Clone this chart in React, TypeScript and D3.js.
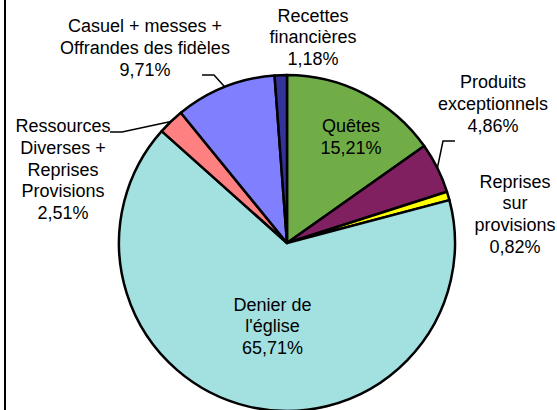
import React from "react";
import * as d3 from "d3";

// Répartition des ressources (en %)
const categories = [
  "Quêtes",
  "Produits exceptionnels",
  "Reprises sur provisions",
  "Denier de l'église",
  "Ressources Diverses + Reprises Provisions",
  "Casuel + messes + Offrandes des fidèles",
  "Recettes financières",
];
const values = [15.21, 4.86, 0.82, 65.71, 2.51, 9.71, 1.18];
const labelLines = [
  ["Quêtes"],
  ["Produits", "exceptionnels"],
  ["Reprises", "sur", "provisions"],
  ["Denier de", "l'église"],
  ["Ressources", "Diverses +", "Reprises", "Provisions"],
  ["Casuel + messes +", "Offrandes des fidèles"],
  ["Recettes", "financières"],
];
const colors = ["#70AD47", "#802060", "#FFFF00", "#A3E0E0", "#FF8080", "#8080FF", "#333399"];

// layout of the labels (x center, first baseline) and leader elbows
const labelPos = [
  [351, 132],
  [493, 88],
  [515, 187.5],
  [272.5, 310.5],
  [63, 132],
  [145, 32],
  [313, 21.5],
];
const leaders: Record<number, [number, number, number]> = {
  1: [443, 141, 455], // elbow x, elbow y, end x
  4: [122, 132, 110],
  5: [214, 75, 202],
};

const width = 557;
const height = 410;
const cx = 287;
const cy = 243;
const radius = 168;
const lineH = 21.8;

const fmt = (v: number) => v.toFixed(2).replace(".", ",") + "%";

export default function App() {
  const pie = d3.pie<number>().sort(null).value((d) => d);
  const arcs = pie(values);
  const arc = d3.arc<d3.PieArcDatum<number>>().innerRadius(0).outerRadius(radius);

  return (
    <svg
      width={width}
      height={height}
      style={{ position: "absolute", left: 0, top: 0, background: "#fff" }}
      fontFamily="'Liberation Sans', Arial, sans-serif"
      fontSize={18}
    >
      <line x1={5} y1={0} x2={5} y2={height} stroke="#000" strokeWidth={2} />
      <g transform={`translate(${cx},${cy})`}>
        {arcs.map((a, i) => (
          <path
            key={categories[i]}
            d={arc(a) || ""}
            fill={colors[i]}
            stroke="#000"
            strokeWidth={2.5}
            strokeLinejoin="round"
          />
        ))}
      </g>
      {arcs.map((a, i) => {
        const l = leaders[i];
        if (!l) return null;
        const mid = (a.startAngle + a.endAngle) / 2;
        const px = cx + radius * Math.sin(mid);
        const py = cy - radius * Math.cos(mid);
        return (
          <polyline
            key={"lead" + i}
            points={`${px},${py} ${l[0]},${l[1]} ${l[2]},${l[1]}`}
            fill="none"
            stroke="#000"
            strokeWidth={1.5}
          />
        );
      })}
      {values.map((v, i) => {
        const lines = [...labelLines[i], fmt(v)];
        const [x, y] = labelPos[i];
        return (
          <text key={"lab" + i} x={x} y={y} textAnchor="middle" fill="#000">
            {lines.map((t, j) => (
              <tspan key={j} x={x} y={y + j * lineH}>
                {t}
              </tspan>
            ))}
          </text>
        );
      })}
    </svg>
  );
}
